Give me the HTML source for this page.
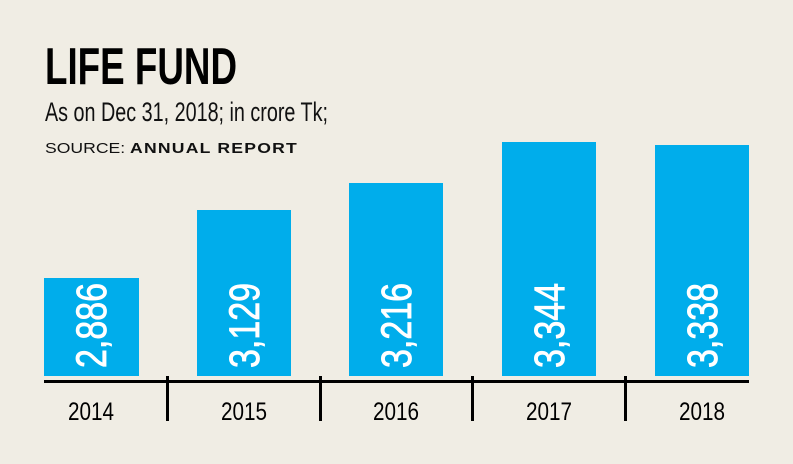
<!DOCTYPE html>
<html><head><meta charset="utf-8"><style>
html,body{margin:0;padding:0;background:#f0ede4;}
svg{display:block;}
</style></head><body>
<svg width="793" height="464" viewBox="0 0 793 464" xmlns="http://www.w3.org/2000/svg" font-family="Liberation Sans, sans-serif">
<rect width="793" height="464" fill="#f0ede4"/>
<text x="45" y="84" font-size="52" font-weight="bold" textLength="192" lengthAdjust="spacingAndGlyphs" fill="#000">LIFE FUND</text>
<text x="45" y="121" font-size="27" textLength="283" lengthAdjust="spacingAndGlyphs" fill="#111">As on Dec 31, 2018; in crore Tk;</text>
<text x="45" y="153" font-size="14.5" fill="#111" textLength="253" lengthAdjust="spacingAndGlyphs">SOURCE: <tspan font-weight="bold" letter-spacing="1">ANNUAL REPORT</tspan></text>
<g fill="#00adeb">
<rect x="44" y="278" width="95" height="98"/>
<rect x="197" y="210" width="94" height="166"/>
<rect x="349" y="183" width="94" height="193"/>
<rect x="502" y="142" width="94" height="234"/>
<rect x="655" y="145" width="94" height="231"/>
</g>
<g fill="#fff" stroke="#fff" stroke-width="0.8" font-size="43">
<text transform="translate(106,368) rotate(-90)" textLength="85" lengthAdjust="spacingAndGlyphs">2,886</text>
<text transform="translate(259,368) rotate(-90)" textLength="85" lengthAdjust="spacingAndGlyphs">3,129</text>
<text transform="translate(411,368) rotate(-90)" textLength="85" lengthAdjust="spacingAndGlyphs">3,216</text>
<text transform="translate(564,368) rotate(-90)" textLength="85" lengthAdjust="spacingAndGlyphs">3,344</text>
<text transform="translate(717,368) rotate(-90)" textLength="85" lengthAdjust="spacingAndGlyphs">3,338</text>
</g>
<rect x="44" y="380" width="705" height="3" fill="#000"/>
<g fill="#000">
<rect x="166" y="376" width="3" height="45"/>
<rect x="319" y="376" width="3" height="45"/>
<rect x="471" y="376" width="3" height="45"/>
<rect x="624" y="376" width="3" height="45"/>
</g>
<g font-size="25" fill="#000" text-anchor="middle">
<text x="91" y="420" textLength="46" lengthAdjust="spacingAndGlyphs">2014</text>
<text x="244" y="420" textLength="46" lengthAdjust="spacingAndGlyphs">2015</text>
<text x="396" y="420" textLength="46" lengthAdjust="spacingAndGlyphs">2016</text>
<text x="549" y="420" textLength="46" lengthAdjust="spacingAndGlyphs">2017</text>
<text x="702" y="420" textLength="46" lengthAdjust="spacingAndGlyphs">2018</text>
</g>
</svg>
</body></html>
